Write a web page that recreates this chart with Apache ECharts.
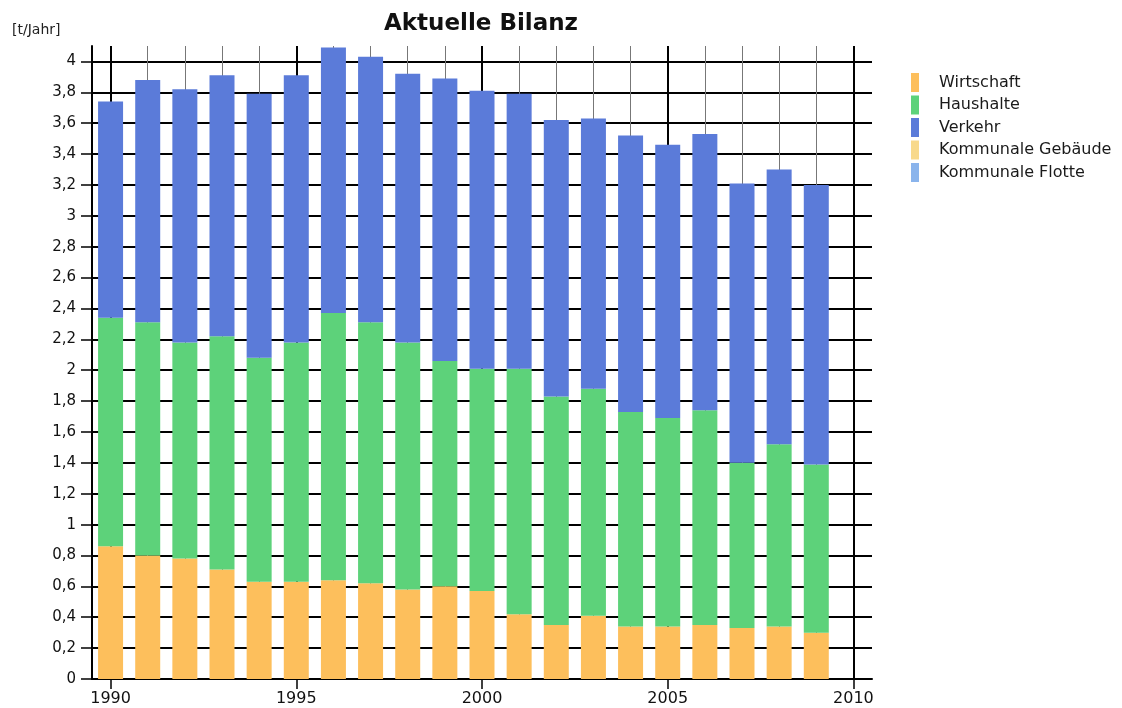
<!DOCTYPE html>
<html>
<head>
<meta charset="utf-8">
<script src="https://cdn.jsdelivr.net/npm/echarts@6/dist/echarts.min.js"></script>
<style>
html,body{margin:0;padding:0;background:#fff;}
#chart{width:1122px;height:708px;}
</style>
</head>
<body>
<div id="chart"></div>
<script>
const years = ['1990','1991','1992','1993','1994','1995','1996','1997','1998','1999','2000','2001','2002','2003','2004','2005','2006','2007','2008','2009','2010'];
const wirtschaft = [0.86,0.80,0.78,0.71,0.63,0.63,0.64,0.62,0.58,0.60,0.57,0.42,0.35,0.41,0.34,0.34,0.35,0.33,0.34,0.30];
const haushalte = [1.48,1.51,1.40,1.51,1.45,1.55,1.73,1.69,1.60,1.46,1.44,1.59,1.48,1.47,1.39,1.35,1.39,1.07,1.18,1.09];
const verkehr = [1.40,1.57,1.64,1.69,1.71,1.73,1.72,1.72,1.74,1.83,1.80,1.78,1.79,1.75,1.79,1.77,1.79,1.81,1.78,1.81];
const kommGebaeude = [0,0,0,0,0,0,0,0,0,0,0,0,0,0,0,0,0,0,0,0];
const kommFlotte = [0,0,0,0,0,0,0,0,0,0,0,0,0,0,0,0,0,0,0,0];
const seriesNames = ['Wirtschaft','Haushalte','Verkehr','Kommunale Gebäude','Kommunale Flotte'];
const seriesColors = ['#fdbf5c','#5dd27a','#5b7bd9','#f8d98b','#8ab4ec'];
const yTicks = [0,0.2,0.4,0.6,0.8,1,1.2,1.4,1.6,1.8,2,2.2,2.4,2.6,2.8,3,3.2,3.4,3.6,3.8,4];

const font = 'DejaVu Sans';
const chart = echarts.init(document.getElementById('chart'));
const seriesData = [wirtschaft, haushalte, verkehr, kommGebaeude, kommFlotte];

chart.setOption({
  animation: false,
  backgroundColor: '#fff',
  title: [
    {text: 'Aktuelle Bilanz', left: 476, top: 8, textAlign: 'center',
     textStyle: {fontFamily: font, fontSize: 23, fontWeight: 'bold', color: '#111'}},
    {text: '[t/Jahr]', left: 7, top: 18,
     textStyle: {fontFamily: font, fontSize: 14, fontWeight: 'normal', color: '#222'}}
  ],
  legend: {
    orient: 'vertical', left: 911, top: 73, padding: 0,
    itemWidth: 8, itemHeight: 19, itemGap: 3.5,
    icon: 'rect',
    data: seriesNames,
    textStyle: {fontFamily: font, fontSize: 16, color: '#1a1a1a', padding: [0,0,0,15]}
  },
  grid: {left: 92, right: 250, top: 46, bottom: 29},
  xAxis: [
    {
      type: 'category', data: years, boundaryGap: true, position: 'bottom',
      axisLine: {show: true, lineStyle: {color: '#000', width: 2}},
      axisTick: {show: true, alignWithLabel: true, interval: 4, length: 10, lineStyle: {color: '#000', width: 1.5}},
      axisLabel: {interval: 4, fontFamily: font, fontSize: 16, color: '#111', margin: 12},
      splitLine: {show: true, interval: 4, alignWithLabel: true, lineStyle: {color: '#000', width: 2}},
      z: 1
    },
    {
      type: 'category', data: years, boundaryGap: true, position: 'bottom',
      axisLine: {show: false}, axisTick: {show: false}, axisLabel: {show: false},
      splitLine: {show: true, interval: 0, alignWithLabel: true, lineStyle: {color: '#777', width: 1}},
      z: 0
    }
  ],
  yAxis: {
    type: 'value', min: 0, max: 4.1, interval: 0.2,
    axisLine: {show: true, lineStyle: {color: '#000', width: 2}},
    axisTick: {show: true, length: 11, lineStyle: {color: '#000', width: 1.5}},
    axisLabel: {
      fontFamily: font, fontSize: 15, color: '#111', margin: 16, showMaxLabel: false,
      formatter: function (v) { return String(Math.round(v * 10) / 10).replace('.', ','); }
    },
    splitLine: {show: true, showMaxLine: false, lineStyle: {color: '#000', width: 2}}
  },
  series: seriesNames.map(function (name, i) {
    return {
      name: name, type: 'bar', stack: 'total', xAxisIndex: 0,
      barWidth: 25, data: seriesData[i],
      itemStyle: {color: seriesColors[i]},
      z: 3
    };
  })
});
</script>
</body>
</html>
